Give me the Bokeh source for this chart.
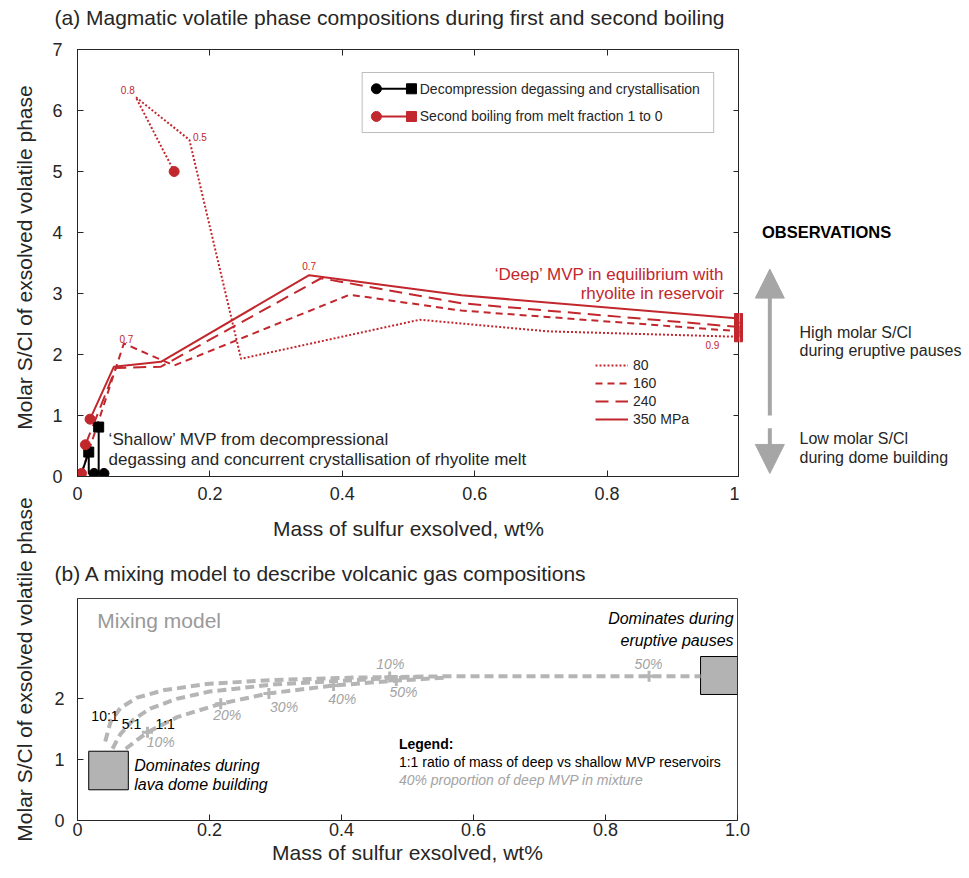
import numpy as np
from bokeh.plotting import figure
from bokeh.models import (ColumnDataSource, Label, LabelSet, Legend, LegendItem, FixedTicker,
                          LinearAxis, Arrow, NormalHead, Range1d, BoxAnnotation)
from bokeh.layouts import column, row
from bokeh.core.properties import value
from bokeh.embed import file_html
from bokeh.resources import INLINE

# ---------------- data: panel (a) ----------------
x_ticks_a = [0, 0.2, 0.4, 0.6, 0.8, 1]
x_tick_labels_a = ["0", "0.2", "0.4", "0.6", "0.8", "1"]
y_ticks_a = [0, 1, 2, 3, 4, 5, 6, 7]
y_tick_labels_a = ["0", "1", "2", "3", "4", "5", "6", "7"]

pressure_labels = ["80", "160", "240", "350 MPa"]
# second boiling paths (melt fraction 1 -> 0), molar S/Cl vs mass S exsolved
sb80_x = [0.146, 0.088, 0.169, 0.247, 0.517, 0.71, 1.0]
sb80_y = [5.00, 6.22, 5.52, 1.93, 2.57, 2.38, 2.29]
sb160_x = [0.006, 0.070, 0.146, 0.411, 0.58, 1.0]
sb160_y = [0.05, 2.18, 1.82, 2.98, 2.72, 2.38]
sb240_x = [0.012, 0.058, 0.126, 0.368, 0.58, 1.0]
sb240_y = [0.52, 1.78, 1.80, 3.25, 2.84, 2.45]
sb350_x = [0.019, 0.055, 0.126, 0.350, 0.58, 1.0]
sb350_y = [0.94, 1.80, 1.88, 3.30, 2.97, 2.59]

# decompression degassing and crystallisation paths
dd1_x = [0.006, 0.017]
dd1_y = [0.05, 0.40]
dd2_x = [0.025, 0.017, 0.017]
dd2_y = [0.05, 0.05, 0.40]
dd3_x = [0.040, 0.032, 0.032]
dd3_y = [0.05, 0.05, 0.81]

# melt fraction annotations
frac_text = ["0.8", "0.5", "0.7", "0.7", "0.9"]
frac_x = [0.076, 0.185, 0.074, 0.350, 0.959]
frac_y = [6.34, 5.56, 2.26, 3.45, 2.16]

# ---------------- data: panel (b) ----------------
x_ticks_b = [0, 0.2, 0.4, 0.6, 0.8, 1.0]
x_tick_labels_b = ["0", "0.2", "0.4", "0.6", "0.8", "1.0"]
y_ticks_b = [0, 1, 2]
y_tick_labels_b = ["0", "1", "2"]

mix10_x = [0.042, 0.050, 0.065, 0.090, 0.130, 0.200, 0.300, 0.420, 0.550, 0.750, 0.944]
mix10_y = [1.30, 1.62, 1.85, 2.02, 2.14, 2.25, 2.31, 2.35, 2.37, 2.37, 2.37]
mix5_x = [0.053, 0.065, 0.085, 0.110, 0.150, 0.200, 0.300, 0.420, 0.520]
mix5_y = [1.18, 1.42, 1.66, 1.84, 2.00, 2.12, 2.24, 2.31, 2.36]
mix1_x = [0.073, 0.090, 0.106, 0.151, 0.217, 0.290, 0.388, 0.483, 0.560]
mix1_y = [1.18, 1.32, 1.45, 1.70, 1.92, 2.09, 2.22, 2.30, 2.35]
pct_mark_x = [0.106, 0.217, 0.290, 0.388, 0.483, 0.473, 0.866]
pct_mark_y = [1.45, 1.92, 2.09, 2.22, 2.30, 2.36, 2.37]
pct_text = ["10%", "20%", "30%", "40%", "50%", "10%", "50%"]
pct_lab_x = [0.126, 0.227, 0.313, 0.401, 0.494, 0.474, 0.865]
pct_lab_y = [1.29, 1.73, 1.86, 2.00, 2.11, 2.58, 2.58]
ratio_text = ["10:1", "5:1", "1:1"]
ratio_x = [0.021, 0.067, 0.118]
ratio_y = [1.71, 1.59, 1.59]
# observed end-member boxes (shallow / deep)
obs_left = [0.017, 0.944]
obs_right = [0.077, 1.0]
obs_bottom = [0.505, 2.072]
obs_top = [1.139, 2.696]

# ---------------- style ----------------
FONT = "Liberation Sans"
RED = "#c1272d"
DARK = "#262626"
GREY_ARROW = "#a6a6a6"
GREY_MIX = "#b5b5b5"
GREY_TXT = "#a3a3a3"
YLABEL = "Molar S/Cl of exsolved volatile phase"
XLABEL = "Mass of sulfur exsolved, wt%"
TITLE_A = "(a) Magmatic volatile phase compositions during first and second boiling"
TITLE_B = "(b) A mixing model to describe volcanic gas compositions"


def style_axis(ax, ticks, labels, size="18px", standoff=10, tick_in=6):
    ax.ticker = FixedTicker(ticks=ticks)
    ax.major_label_overrides = {t: l for t, l in zip(ticks, labels)}
    ax.major_tick_in = tick_in
    ax.major_tick_out = 0
    ax.minor_tick_line_color = None
    ax.axis_line_color = DARK
    ax.major_tick_line_color = DARK
    ax.major_label_text_font = FONT
    ax.major_label_text_font_size = size
    ax.major_label_text_color = DARK
    ax.major_label_standoff = standoff
    ax.axis_label_text_font = FONT
    ax.axis_label_text_font_style = "normal"
    ax.axis_label_text_font_size = "21px"
    ax.axis_label_text_color = DARK


def add_label(p, x, y, text, size="17px", color="black", style="normal", align="left", angle=0.0):
    p.add_layout(Label(x=x, y=y, text=text, text_font=FONT, text_font_size=size,
                       text_color=color, text_font_style=style, text_align=align,
                       text_baseline="middle", angle=angle))


def blank_fig(width, height, x0, x1, y0, y1, title=None):
    f = figure(width=width, height=height, x_range=Range1d(x0, x1), y_range=Range1d(y0, y1),
               output_backend="svg", toolbar_location=None, x_axis_type=None,
               y_axis_type=None, min_border_left=0, min_border_right=0, min_border_top=0,
               min_border_bottom=0, title=title)
    f.grid.visible = False
    f.outline_line_color = None
    if title is not None:
        f.title.align = "left"
        f.title.offset = -23
        f.title.standoff = 6
        f.title.text_font = FONT
        f.title.text_font_size = "21px"
        f.title.text_font_style = "normal"
        f.title.text_color = DARK
    return f


STRIP_W = 40
P1_W = 699
TITLE_H = 40
TOP_H = 556

# ================= title strips (frames align with the panels below) =================
title_a = blank_fig(969 - STRIP_W, TITLE_H, 0, 1, 0, 1, title=TITLE_A)
title_b = blank_fig(969 - STRIP_W, TITLE_H, 0, 1, 0, 1, title=TITLE_B)

# ================= panel (a) =================
p1 = figure(width=P1_W, height=TOP_H - TITLE_H, x_range=Range1d(0, 1), y_range=Range1d(0, 7),
            output_backend="svg", toolbar_location=None,
            min_border_left=77 - STRIP_W, min_border_right=0, min_border_top=49 - TITLE_H,
            min_border_bottom=80)
p1.grid.visible = False
p1.outline_line_color = DARK
style_axis(p1.xaxis[0], x_ticks_a, x_tick_labels_a, standoff=10)
style_axis(p1.yaxis[0], y_ticks_a, y_tick_labels_a, standoff=15)
p1.xaxis[0].axis_label = XLABEL
p1.xaxis[0].axis_label_standoff = 14

ax_top = LinearAxis()
style_axis(ax_top, x_ticks_a, ["" for _ in x_ticks_a], size="0px", standoff=0)
p1.add_layout(ax_top, "above")
ax_right = LinearAxis()
style_axis(ax_right, y_ticks_a, ["" for _ in y_ticks_a], size="0px", standoff=0)
p1.add_layout(ax_right, "right")

sb_series = [(sb80_x, sb80_y, "2 2"), (sb160_x, sb160_y, "7 5"),
             (sb240_x, sb240_y, "13 7"), (sb350_x, sb350_y, "solid")]
legend_items = []
for (xs, ys, dash), lab in zip(sb_series, pressure_labels):
    r = p1.line(xs, ys, line_color=RED, line_width=2, line_dash=dash)
    legend_items.append(LegendItem(label=lab, renderers=[r]))

for xs, ys in [(dd1_x, dd1_y), (dd2_x, dd2_y), (dd3_x, dd3_y)]:
    p1.line(xs, ys, line_color="black", line_width=2)
p1.scatter([dd2_x[0], dd3_x[0]], [dd2_y[0], dd3_y[0]], marker="circle", size=10,
           fill_color="black", line_color="black")
p1.scatter([dd2_x[-1], dd3_x[-1]], [dd2_y[-1], dd3_y[-1]], marker="square", size=10,
           fill_color="black", line_color="black")

start_x = [s[0][0] for s in sb_series]
start_y = [s[1][0] for s in sb_series]
end_x = [s[0][-1] for s in sb_series]
end_y = [s[1][-1] for s in sb_series]
p1.scatter(start_x, start_y, marker="circle", size=10, fill_color=RED, line_color=RED)
p1.scatter(end_x, end_y, marker="square", size=10, fill_color=RED, line_color=RED)

frac_src = ColumnDataSource(dict(x=frac_x, y=frac_y, text=frac_text))
p1.add_layout(LabelSet(x="x", y="y", text="text", source=frac_src, text_font=value(FONT),
                       text_font_size="10px", text_color=RED, text_align="center",
                       text_baseline="middle"))

leg = Legend(items=legend_items, location=(518, 49), label_text_font=FONT,
             label_text_font_size="14px", label_text_color=DARK, glyph_width=33,
             glyph_height=14, label_height=14, spacing=2, padding=0, margin=0,
             label_standoff=5, border_line_color=None, background_fill_alpha=0)
p1.add_layout(leg)

p1.add_layout(BoxAnnotation(left=0.430, right=0.961, bottom=5.639, top=6.623,
                            fill_color=None, line_color=DARK, line_width=1))
key_rows = [(6.356, "black", "Decompression degassing and crystallisation"),
            (5.902, RED, "Second boiling from melt fraction 1 to 0")]
for ky, kc, kt in key_rows:
    p1.line([0.4515, 0.5045], [ky, ky], line_color=kc, line_width=2)
    p1.scatter([0.4515], [ky], marker="circle", size=10, fill_color=kc, line_color=kc)
    p1.scatter([0.5045], [ky], marker="square", size=10, fill_color=kc, line_color=kc)
    add_label(p1, 0.517, ky, kt, size="14px", color=DARK)

add_label(p1, 0.047, 0.602, "\u2018Shallow\u2019 MVP from decompressional", color=DARK)
add_label(p1, 0.047, 0.274, "degassing and concurrent crystallisation of rhyolite melt", color=DARK)
add_label(p1, 0.977, 3.311, "\u2018Deep\u2019 MVP in equilibrium with", color=RED, align="right")
add_label(p1, 0.977, 2.995, "rhyolite in reservoir", color=RED, align="right")

# ================= observations side panel (same scales as panel a) =================
obs_x0 = (STRIP_W + P1_W - 77) / 660.0
obs_x1 = (969 - 77) / 660.0
p_obs = figure(width=969 - STRIP_W - P1_W, height=TOP_H - TITLE_H,
               x_range=Range1d(obs_x0, obs_x1), y_range=p1.y_range, output_backend="svg",
               toolbar_location=None, x_axis_type=None, y_axis_type=None,
               min_border_left=0, min_border_right=0, min_border_top=49 - TITLE_H,
               min_border_bottom=80)
p_obs.grid.visible = False
p_obs.outline_line_color = None
p_obs.scatter(end_x, end_y, marker="square", size=10, fill_color=RED, line_color=RED)
add_label(p_obs, 1.037, 4.005, "OBSERVATIONS", size="16.5px", color="black", style="bold")
add_label(p_obs, 1.094, 2.366, "High molar S/Cl", size="16px", color=DARK)
add_label(p_obs, 1.094, 2.066, "during eruptive pauses", size="16px", color=DARK)
add_label(p_obs, 1.094, 0.618, "Low molar S/Cl", size="16px", color=DARK)
add_label(p_obs, 1.094, 0.316, "during dome building", size="16px", color=DARK)
p_obs.add_layout(Arrow(end=NormalHead(size=29, fill_color=GREY_ARROW, line_color=GREY_ARROW),
                       x_start=1.049, y_start=1.0, x_end=1.049, y_end=3.40,
                       line_color=GREY_ARROW, line_width=4))
p_obs.add_layout(Arrow(end=NormalHead(size=29, fill_color=GREY_ARROW, line_color=GREY_ARROW),
                       x_start=1.049, y_start=0.79, x_end=1.049, y_end=0.05,
                       line_color=GREY_ARROW, line_width=4))

# ================= panel (b) =================
p2 = figure(width=969 - STRIP_W, height=878 - TOP_H - TITLE_H, x_range=Range1d(0, 1),
            y_range=Range1d(0, 3.65), output_backend="svg", toolbar_location=None,
            min_border_left=77 - STRIP_W, min_border_right=232,
            min_border_top=598 - TOP_H - TITLE_H, min_border_bottom=58)
p2.grid.visible = False
p2.outline_line_color = "#404040"
style_axis(p2.xaxis[0], x_ticks_b, x_tick_labels_b, standoff=2)
style_axis(p2.yaxis[0], y_ticks_b, y_tick_labels_b, standoff=13)
p2.xaxis[0].axis_label = XLABEL
p2.xaxis[0].axis_label_standoff = 2

p2.quad(left=obs_left, right=obs_right, bottom=obs_bottom, top=obs_top,
        fill_color="#b3b3b3", line_color="black", line_width=1)
for xs, ys in [(mix10_x, mix10_y), (mix5_x, mix5_y), (mix1_x, mix1_y)]:
    p2.line(xs, ys, line_color=GREY_MIX, line_width=4, line_dash="9 5")
p2.scatter(pct_mark_x, pct_mark_y, marker="cross", size=11, line_color=GREY_MIX, line_width=3)

pct_src = ColumnDataSource(dict(x=pct_lab_x, y=pct_lab_y, text=pct_text))
p2.add_layout(LabelSet(x="x", y="y", text="text", source=pct_src, text_font=value(FONT),
                       text_font_size="14px", text_font_style="italic", text_color=GREY_TXT,
                       text_align="center", text_baseline="middle"))
ratio_src = ColumnDataSource(dict(x=ratio_x, y=ratio_y, text=ratio_text))
p2.add_layout(LabelSet(x="x", y="y", text="text", source=ratio_src, text_font=value(FONT),
                       text_font_size="14px", text_color="black", text_align="left",
                       text_baseline="middle"))

add_label(p2, 0.030, 3.288, "Mixing model", size="21px", color="#999999")
add_label(p2, 0.994, 3.321, "Dominates during", size="16px", color="black", style="italic", align="right")
add_label(p2, 0.994, 2.960, "eruptive pauses", size="16px", color="black", style="italic", align="right")
add_label(p2, 0.086, 0.904, "Dominates during", size="16px", color="black", style="italic")
add_label(p2, 0.086, 0.592, "lava dome building", size="16px", color="black", style="italic")
add_label(p2, 0.487, 1.261, "Legend:", size="14px", color="black", style="bold")
add_label(p2, 0.487, 0.970, "1:1 ratio of mass of deep vs shallow MVP reservoirs", size="14px", color="black")
add_label(p2, 0.487, 0.658, "40% proportion of deep MVP in mixture", size="14px", color=GREY_TXT, style="italic")

# ================= left strip holding the two y-axis titles =================
strip = blank_fig(STRIP_W, 878, 0, STRIP_W, 878, 0)
add_label(strip, 24, 257, YLABEL, size="21px", color=DARK, align="center", angle=np.pi / 2)
add_label(strip, 24, 669, YLABEL, size="21px", color=DARK, align="center", angle=np.pi / 2)

layout = row(strip, column(title_a, row(p1, p_obs), title_b, p2))
open("out.html", "w").write(file_html(layout, INLINE))
